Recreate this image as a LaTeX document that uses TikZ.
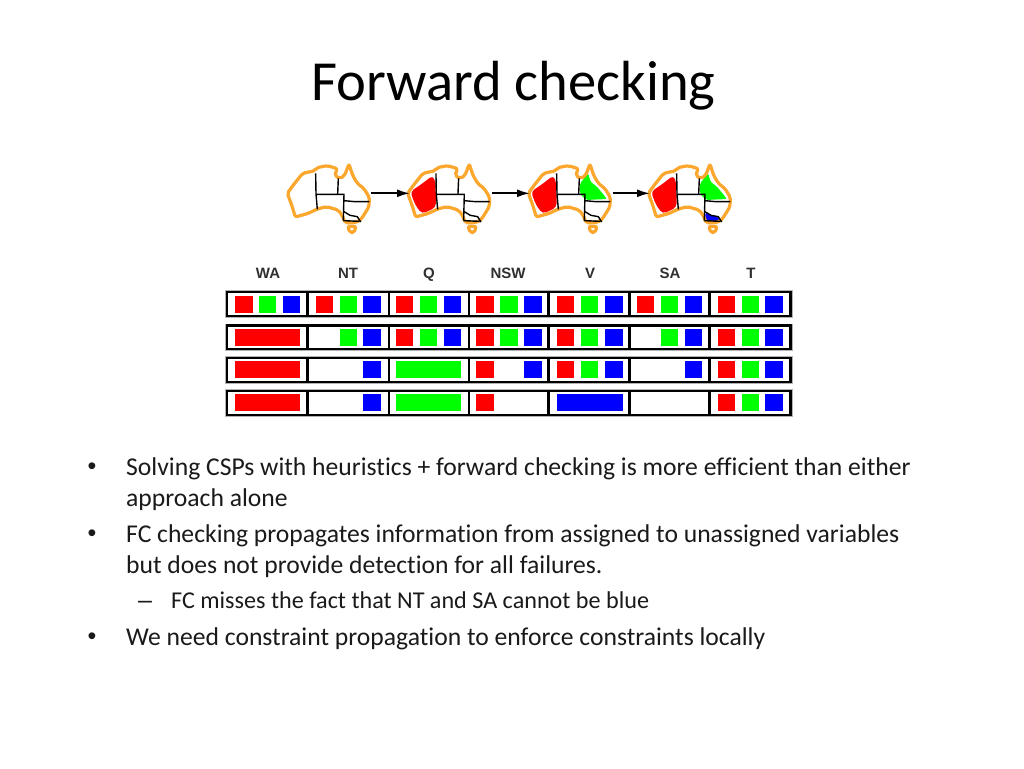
\documentclass[tikz,border=0pt]{standalone}
\usepackage{fontspec}
\usetikzlibrary{arrows.meta}
\setmainfont[Ligatures=NoCommon]{Carlito}
\newfontfamily\labelfont{Liberation Sans}
\definecolor{ozorange}{HTML}{FBA62C}
\definecolor{csp}{HTML}{1A1A1A}
\definecolor{lab}{HTML}{303030}
\definecolor{cr}{HTML}{FF0000}
\definecolor{cg}{HTML}{00FF00}
\definecolor{cb}{HTML}{0000FF}
\newcommand{\ozborders}{%
  \draw[ozline] (52,130) -- (70,105) -- (98,70) -- (135,62) -- (140,53) -- (172,47) -- (202,56) -- (194,76) -- (210,86) -- (224,76) -- (237,42) -- (248,76) -- (262,100) -- (282,116) -- (298,142) -- (297,170) -- (276,204) -- (264,216) -- (226,219) -- (216,195) -- (204,180) -- (170,170) -- (142,177) -- (115,190) -- (76,201) -- (65,165) -- cycle;
  \draw[ozline] (233,229) -- (258,229) -- (252,248) -- (240,248) -- cycle;
  \draw[ozin] (137,70) -- (138,132) -- (142,178);
  \draw[ozin] (138,133) -- (222,133) -- (220,212);
  \draw[ozin] (205,85) -- (203,133);
  \draw[ozin] (222,152) -- (255,155) -- (298,155);
  \draw[ozin] (222,185) -- (240,196) -- (262,200) -- (272,216);
  \draw[ozin] (220,212) -- (268,214);
}
\newcommand{\wafill}{\fill[cr,rounded corners=4pt] (60,125) -- (90,105) -- (128,76) -- (136,100) -- (137,172) -- (95,192) -- (75,165) -- cycle;}
\newcommand{\qfill}{\fill[cg,rounded corners=2pt] (207,100) -- (232,70) -- (238,95) -- (258,110) -- (288,147) -- (225,150) -- (207,132) -- cycle;}
\newcommand{\vicfill}{\fill[cb,rounded corners=2pt] (224,186) -- (242,196) -- (262,201) -- (271,215) -- (222,212) -- cycle;}
\newcommand{\sq}[4]{\fill[#4] (#1,#3) rectangle (#2,#3+17);}
\begin{document}
\begin{tikzpicture}[x=1pt,y=-1pt,
  ozline/.style={draw=ozorange,line width=3.2pt,line join=round,rounded corners=2pt},
  ozin/.style={draw=black,line width=1.4pt,line join=round},
  flow/.style={draw=black,line width=2pt,-{Latex[length=13pt,width=8pt]}},
  collabel/.style={font=\labelfont\bfseries\fontsize{15}{15}\selectfont,text=lab,anchor=base},
  body/.style={font=\fontsize{25.63}{25.63}\selectfont,text=csp,anchor=base west,inner sep=0pt},
  sub/.style={font=\fontsize{24.15}{24.15}\selectfont,text=csp,anchor=base west,inner sep=0pt},
  bul/.style={font=\labelfont\fontsize{25}{25}\selectfont,text=csp,anchor=base west,inner sep=0pt},
  cell/.style={draw=black,line width=2.8pt},
  cellhalo/.style={draw=black!30,line width=4pt}]
\useasboundingbox (0,0) rectangle (1024,768);
\fill[white] (0,0) rectangle (1024,768);
\node[anchor=base,inner sep=0pt,font=\fontsize{56.6}{56.6}\selectfont,text=black] (title) at (513.5,100.5) {Forward checking};

% maps
\coordinate (m1) at (371,193.3);
\coordinate (m2) at (410,193.3);
\coordinate (m3) at (492,193.3);
\coordinate (m4) at (530,193.3);
\coordinate (m5) at (613,193.3);
\coordinate (m6) at (650,193.3);
\begin{scope}[shift={(270,150)},x=.3333pt,y=-.3333pt]\ozborders\end{scope}
\begin{scope}[shift={(390.3,150)},x=.3333pt,y=-.3333pt]\wafill\ozborders\end{scope}
\begin{scope}[shift={(511,150)},x=.3333pt,y=-.3333pt]\wafill\qfill\ozborders\end{scope}
\begin{scope}[shift={(631,150)},x=.3333pt,y=-.3333pt]\wafill\qfill\vicfill\ozborders\end{scope}
\draw[flow] (m1) -- (m2);
\draw[flow] (m3) -- (m4);
\draw[flow] (m5) -- (m6);

% labels
\node[collabel] (wa) at (268,278) {WA};
\node[collabel] (nt) at (348,278) {NT};
\node[collabel] (q) at (429,278) {Q};
\node[collabel] (nsw) at (508,278) {NSW};
\node[collabel] (v) at (590,278) {V};
\node[collabel] (sa) at (670,278) {SA};
\node[collabel] (t) at (751,278) {T};

% frames
\foreach \ya/\yb in {292/316,325.5/349,358/382,391/415}{
  \draw[cellhalo] (227,\ya) rectangle (790.5,\yb);
  \fill[white] (227,\ya) rectangle (790.5,\yb);
  \foreach \xa/\xb in {227/307.7,307.7/389,389/469,469/548.5,548.5/629.3,629.3/709.3,709.3/790.5}
    \draw[cell] (\xa,\ya) rectangle (\xb,\yb);
}
% row 1
\foreach \r in {295.7}{
 \sq{235}{253.3}{\r}{cr}\sq{259}{276}{\r}{cg}\sq{283.3}{300.3}{\r}{cb}
 \sq{316}{333}{\r}{cr}\sq{340}{357}{\r}{cg}\sq{363.3}{381.3}{\r}{cb}
 \sq{396}{413}{\r}{cr}\sq{420}{437}{\r}{cg}\sq{444}{461}{\r}{cb}
 \sq{475.7}{494}{\r}{cr}\sq{500}{518}{\r}{cg}\sq{524}{542.3}{\r}{cb}
 \sq{556.7}{574}{\r}{cr}\sq{581}{598}{\r}{cg}\sq{605}{622.5}{\r}{cb}
 \sq{637}{654}{\r}{cr}\sq{661}{678}{\r}{cg}\sq{685}{702}{\r}{cb}
 \sq{718}{735}{\r}{cr}\sq{742}{759}{\r}{cg}\sq{765}{783}{\r}{cb}}
% row 2
\foreach \r in {329}{
 \sq{235}{300.3}{\r}{cr}
 \sq{340}{357}{\r}{cg}\sq{363.3}{381.3}{\r}{cb}
 \sq{396}{413}{\r}{cr}\sq{420}{437}{\r}{cg}\sq{444}{461}{\r}{cb}
 \sq{475.7}{494}{\r}{cr}\sq{500}{518}{\r}{cg}\sq{524}{542.3}{\r}{cb}
 \sq{556.7}{574}{\r}{cr}\sq{581}{598}{\r}{cg}\sq{605}{622.5}{\r}{cb}
 \sq{661}{678}{\r}{cg}\sq{685}{702}{\r}{cb}
 \sq{718}{735}{\r}{cr}\sq{742}{759}{\r}{cg}\sq{765}{783}{\r}{cb}}
% row 3
\foreach \r in {361}{
 \sq{235}{300.3}{\r}{cr}
 \sq{363.3}{381.3}{\r}{cb}
 \sq{396}{461}{\r}{cg}
 \sq{475.7}{494}{\r}{cr}\sq{524}{542.3}{\r}{cb}
 \sq{556.7}{574}{\r}{cr}\sq{581}{598}{\r}{cg}\sq{605}{622.5}{\r}{cb}
 \sq{685}{702}{\r}{cb}
 \sq{718}{735}{\r}{cr}\sq{742}{759}{\r}{cg}\sq{765}{783}{\r}{cb}}
% row 4
\foreach \r in {394.3}{
 \sq{235}{300.3}{\r}{cr}
 \sq{363.3}{381.3}{\r}{cb}
 \sq{396}{461}{\r}{cg}
 \sq{475.7}{494}{\r}{cr}
 \sq{556.7}{622.5}{\r}{cb}
 \sq{718}{735}{\r}{cr}\sq{742}{759}{\r}{cg}\sq{765}{783}{\r}{cb}}

% text
\node[bul] (b1) at (87.5,474) {•};
\node[body] (l1) at (126,475) {Solving CSPs with heuristics + forward checking is more efficient than either};
\node[body] (l2) at (126,506) {approach alone};
\node[bul] (b2) at (87.5,541) {•};
\node[body] (l3) at (126,542) {FC checking propagates information from assigned to unassigned variables};
\node[body] (l4) at (126,573) {but does not provide detection for all failures.};
\node[bul] (d) at (138,608.5) {–};
\node[sub] (l5) at (171,608.5) {FC misses the fact that NT and SA cannot be blue};
\node[bul] (b3) at (87.5,644) {•};
\node[body] (l6) at (126,645) {We need constraint propagation to enforce constraints locally};
\end{tikzpicture}
\end{document}
